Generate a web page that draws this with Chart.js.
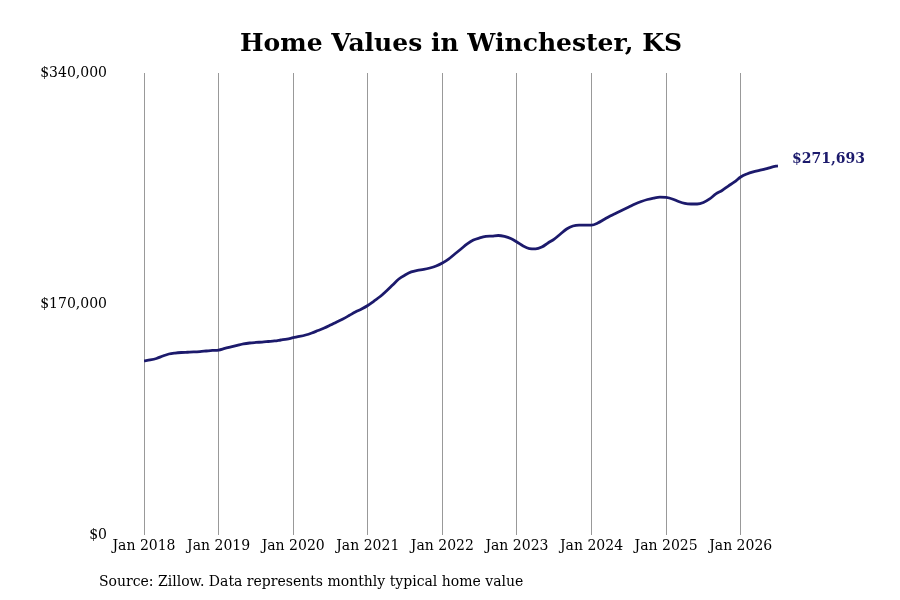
<!DOCTYPE html>
<html>
<head>
<meta charset="utf-8">
<script src="https://cdn.jsdelivr.net/npm/chart.js@4.4.1/dist/chart.umd.min.js"></script>
<style>
html,body{margin:0;padding:0;background:#fff;}
#wrap{width:900px;height:600px;position:relative;}
</style>
</head>
<body>
<div id="wrap"><canvas id="c" width="900" height="600"></canvas></div>
<script>
const titleText = 'Home Values in Winchester, KS';
const sourceText = 'Source: Zillow. Data represents monthly typical home value';
const startYear = 2018;
const tickLabels = ['Jan 2018','Jan 2019','Jan 2020','Jan 2021','Jan 2022','Jan 2023','Jan 2024','Jan 2025','Jan 2026'];
const yTicks = [0, 170000, 340000];
// Monthly typical home value, Jan 2018 .. Jul 2026
const values = [
128100,128800,129900,131700,133200,133900,134300,134500,134700,135000,135400,135800,
136100,137300,138400,139500,140600,141300,141700,142000,142400,142800,143500,144200,
145200,146100,147200,148700,150500,152300,154500,156800,159000,161500,164100,166300,
168900,172200,175500,179600,184000,188400,191300,193600,194700,195400,196500,198000,
200200,203100,206800,210500,214200,217100,218600,219700,220000,220400,219700,218200,
215600,212700,210800,210500,211900,214900,217800,221500,225200,227400,228100,228100,
228100,229600,232200,234800,237000,239200,241400,243600,245400,246900,248000,248700,
248400,247300,245400,244000,243600,243600,244700,247300,251000,253500,256800,259800,
263500,265700,267200,268300,269400,270800,271693
];
const lineColor = '#1c1a6c';
const points = values.map((v, i) => ({x: i, y: v}));

const fmt = v => '$' + Math.round(v).toLocaleString('en-US');

const overlay = {
  id: 'overlay',
  afterDraw(chart) {
    const ctx = chart.ctx;
    const ca = chart.chartArea;
    ctx.save();
    ctx.fillStyle = '#000';
    ctx.font = 'bold 25px "DejaVu Serif"';
    ctx.textAlign = 'center';
    ctx.textBaseline = 'middle';
    ctx.fillText(titleText, (ca.left + ca.right) / 2, 44);
    ctx.font = '14px "DejaVu Serif"';
    ctx.textAlign = 'left';
    ctx.fillText(sourceText, 99, 582);
    const meta = chart.getDatasetMeta(0);
    const last = meta.data[meta.data.length - 1];
    ctx.fillStyle = lineColor;
    ctx.font = 'bold 14px "DejaVu Serif"';
    ctx.fillText(fmt(values[values.length - 1]), last.x + 14, last.y - 6);
    ctx.restore();
  }
};

new Chart(document.getElementById('c'), {
  type: 'line',
  data: {
    datasets: [{
      data: points,
      borderColor: lineColor,
      borderWidth: 2.8,
      pointRadius: 0,
      tension: 0.4,
      cubicInterpolationMode: 'monotone',
      fill: false
    }]
  },
  options: {
    responsive: false,
    animation: false,
    layout: {padding: {top: 73, right: 122, left: 0, bottom: 0}},
    plugins: {legend: {display: false}, tooltip: {enabled: false}, title: {display: false}},
    scales: {
      x: {
        type: 'linear',
        min: 0,
        max: values.length - 1,
        afterBuildTicks(scale) {
          scale.ticks = tickLabels.map((_, i) => ({value: i * 12}));
        },
        afterFit(scale) { scale.height = 65; },
        border: {display: false},
        grid: {color: '#999999', lineWidth: 1, drawTicks: false},
        ticks: {
          color: '#000',
          font: {family: 'DejaVu Serif', size: 14},
          padding: 3,
          maxRotation: 0,
          autoSkip: false,
          callback: (v) => tickLabels[Math.round(v / 12)] || ''
        }
      },
      y: {
        min: 0,
        max: 340000,
        afterBuildTicks(scale) {
          scale.ticks = yTicks.map(v => ({value: v}));
        },
        afterFit(scale) { scale.width = 144; },
        border: {display: false},
        grid: {display: false, drawTicks: false},
        ticks: {
          color: '#000',
          font: {family: 'DejaVu Serif', size: 14},
          padding: 37,
          callback: (v) => fmt(v)
        }
      }
    }
  },
  plugins: [overlay]
});
</script>
</body>
</html>
